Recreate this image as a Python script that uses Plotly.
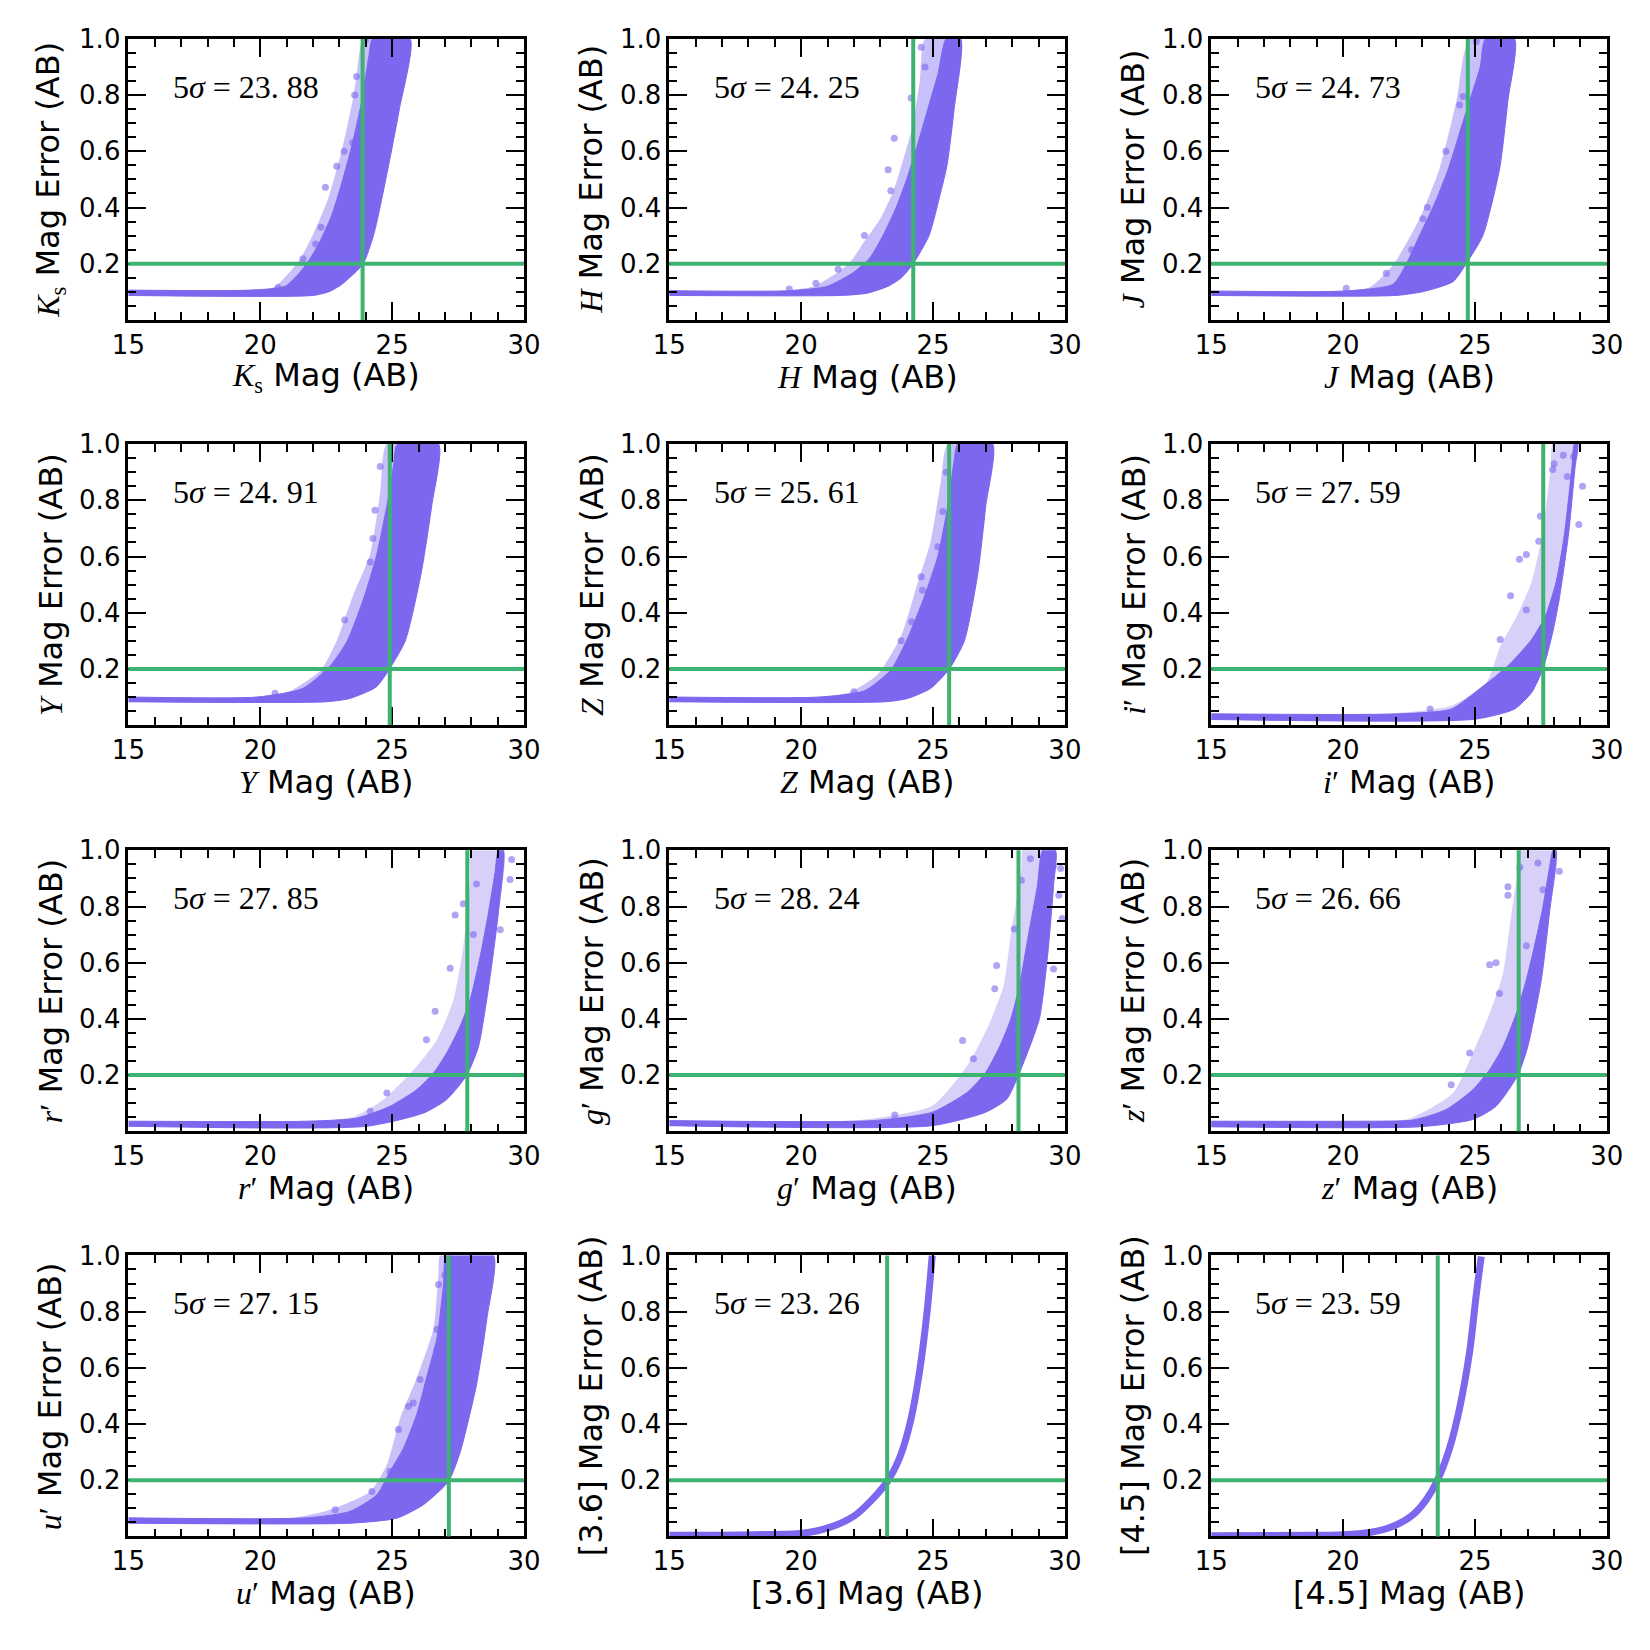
import plotly.graph_objects as go

# ---------------- data ----------------
PANEL_KEYS = ['Ks', 'H', 'J', 'Y', 'Z', 'i', 'r', 'g', 'z', 'u', 'I1', 'I2']
FIVE_SIGMA = [23.88, 24.25, 24.73, 24.91, 25.61, 27.59, 27.85, 28.24, 26.66, 27.15, 23.26, 23.59]
FIVE_SIGMA_TEXT = ['23. 88', '24. 25', '24. 73', '24. 91', '25. 61', '27. 59',
                   '27. 85', '28. 24', '26. 66', '27. 15', '23. 26', '23. 59']
ERR_LIMIT = 0.2

# error floor (lower, upper) of the flat part of each cloud
FLOOR = {
    'Ks': (0.087, 0.106), 'H': (0.087, 0.104), 'J': (0.087, 0.103), 'Y': (0.083, 0.100),
    'Z': (0.083, 0.100), 'i': (0.020, 0.040), 'r': (0.018, 0.036), 'g': (0.020, 0.038),
    'z': (0.016, 0.036), 'u': (0.047, 0.066),
}

# upper-left edge of the dense core (mag, err)
KS_CORE_LEFT = [(19.6, 0.106), (20.95, 0.12), (21.6, 0.18), (22.16, 0.26), (22.7, 0.37), (23.1, 0.49),
                (23.5, 0.63), (23.85, 0.78), (24.12, 0.94), (24.26, 1.0)]
H_CORE_LEFT = [(19.6, 0.104), (21.0, 0.12), (22.0, 0.17), (22.6, 0.22), (23.1, 0.30), (23.6, 0.40),
               (24.0, 0.50), (24.4, 0.62), (24.8, 0.75), (25.2, 0.88), (25.5, 1.0)]
J_CORE_LEFT = [(20.1, 0.103), (21.9, 0.127), (22.4, 0.2), (22.9, 0.30), (23.5, 0.42), (24.0, 0.54),
               (24.4, 0.66), (24.8, 0.78), (25.2, 0.9), (25.4, 1.0)]
Y_CORE_LEFT = [(19.9, 0.10), (21.6, 0.13), (22.65, 0.21), (23.3, 0.30), (23.9, 0.445), (24.4, 0.60),
               (24.8, 0.78), (25.05, 0.92), (25.2, 1.0)]
Z_CORE_LEFT = [(20.75, 0.10), (22.4, 0.122), (23.4, 0.196), (24.04, 0.31), (24.67, 0.457), (25.18, 0.60),
               (25.56, 0.78), (25.8, 0.94), (25.94, 1.0)]
IP_CORE_LEFT = [(22.1, 0.04), (24.1, 0.057), (25.16, 0.128), (25.8, 0.175), (26.35, 0.22), (27.15, 0.305),
                (27.68, 0.39), (28.08, 0.51), (28.4, 0.684), (28.68, 0.92), (28.77, 1.0)]
RP_CORE_LEFT = [(21.9, 0.036), (23.66, 0.047), (24.92, 0.089), (25.93, 0.148), (26.57, 0.208), (27.07, 0.279),
                (27.58, 0.374), (27.96, 0.469), (28.34, 0.623), (28.65, 0.777), (28.9, 0.92), (29.03, 1.0)]
GP_CORE_LEFT = [(22.7, 0.038), (24.97, 0.068), (26.3, 0.139), (27.0, 0.21), (27.54, 0.305), (27.95, 0.40),
                (28.28, 0.52), (28.62, 0.70), (28.96, 0.875), (29.16, 1.0)]
ZP_CORE_LEFT = [(20.75, 0.036), (22.65, 0.04), (23.9, 0.077), (24.92, 0.148), (25.56, 0.22), (26.06, 0.30),
                (26.57, 0.42), (26.95, 0.54), (27.26, 0.66), (27.58, 0.80), (27.83, 0.94), (27.96, 1.0)]
UP_CORE_LEFT = [(21.76, 0.066), (23.4, 0.089), (24.42, 0.148), (24.92, 0.231), (25.43, 0.314), (25.93, 0.433),
                (26.3, 0.563), (26.7, 0.706), (26.95, 0.896), (27.07, 1.0)]

# upper-left edge of the sparse outer cloud (mag, err)
KS_OUTER_LEFT = [(19.3, 0.106), (20.5, 0.115), (21.5, 0.215), (22.03, 0.31), (22.57, 0.43), (23.1, 0.606),
                 (23.5, 0.78), (23.65, 0.866), (23.92, 1.0)]
H_OUTER_LEFT = [(19.2, 0.104), (20.5, 0.12), (21.8, 0.2), (22.4, 0.28), (23.0, 0.36), (23.5, 0.46),
                (23.9, 0.58), (24.2, 0.68), (24.5, 0.85), (24.7, 1.0)]
J_OUTER_LEFT = [(19.8, 0.103), (21.0, 0.115), (21.9, 0.196), (22.9, 0.36), (23.66, 0.54), (24.3, 0.78),
                (24.8, 1.0)]
Y_OUTER_LEFT = [(19.6, 0.10), (21.0, 0.115), (22.3, 0.196), (22.9, 0.30), (23.5, 0.457), (24.17, 0.61),
                (24.55, 0.83), (24.8, 1.0)]
Z_OUTER_LEFT = [(20.4, 0.10), (21.8, 0.115), (22.9, 0.18), (23.8, 0.32), (24.4, 0.50), (24.9, 0.65),
                (25.3, 0.87), (25.56, 1.0)]
IP_OUTER_LEFT = [(21.5, 0.04), (24.1, 0.069), (25.43, 0.151), (25.96, 0.28), (26.6, 0.39), (27.15, 0.51),
                 (27.55, 0.68), (27.88, 0.92), (27.95, 1.0)]
RP_OUTER_LEFT = [(21.0, 0.036), (23.5, 0.05), (24.67, 0.113), (25.93, 0.231), (26.7, 0.326), (27.33, 0.469),
                 (27.7, 0.658), (27.96, 0.896), (28.0, 1.0)]
GP_OUTER_LEFT = [(22.0, 0.038), (24.97, 0.091), (26.3, 0.234), (27.1, 0.376), (27.68, 0.52), (27.95, 0.70),
                 (28.35, 0.935), (28.4, 1.0)]
ZP_OUTER_LEFT = [(20.3, 0.036), (22.5, 0.045), (24.17, 0.136), (24.92, 0.279), (25.56, 0.42), (26.06, 0.56),
                 (26.3, 0.717), (26.57, 0.896), (26.7, 1.0)]
UP_OUTER_LEFT = [(21.2, 0.066), (22.65, 0.095), (24.17, 0.16), (24.8, 0.255), (25.3, 0.42), (25.93, 0.563),
                 (26.57, 0.741), (26.76, 0.94), (26.82, 1.0)]

# lower-right edge of each cloud (mag, err)
KS_RIGHT = [(22.0, 0.087), (22.6, 0.10), (23.1, 0.127), (23.9, 0.2), (24.32, 0.31), (24.86, 0.547),
            (25.27, 0.748), (25.68, 1.0)]
H_RIGHT = [(21.5, 0.087), (22.5, 0.095), (23.3, 0.12), (23.8, 0.15), (24.25, 0.2), (24.85, 0.3),
           (25.2, 0.42), (25.53, 0.55), (25.8, 0.75), (26.05, 1.0)]
J_RIGHT = [(22.0, 0.087), (23.0, 0.10), (24.17, 0.136), (24.67, 0.2), (25.3, 0.30), (25.94, 0.54),
           (26.25, 0.78), (26.5, 1.0)]
Y_RIGHT = [(22.5, 0.083), (23.4, 0.095), (24.4, 0.136), (24.9, 0.2), (25.5, 0.30), (26.1, 0.54),
           (26.5, 0.78), (26.76, 1.0)]
Z_RIGHT = [(23.2, 0.083), (24.04, 0.095), (24.9, 0.13), (25.62, 0.2), (26.19, 0.30), (26.7, 0.54),
           (27.0, 0.78), (27.26, 1.0)]
IP_RIGHT = [(25.0, 0.021), (26.5, 0.057), (27.15, 0.116), (27.58, 0.2), (27.95, 0.33), (28.2, 0.45),
            (28.55, 0.68), (28.8, 0.92), (28.9, 1.0)]
RP_RIGHT = [(24.04, 0.018), (26.19, 0.065), (27.07, 0.113), (27.83, 0.2), (28.27, 0.30), (28.7, 0.54),
            (29.03, 0.78), (29.22, 1.0)]
GP_RIGHT = [(24.97, 0.02), (27.0, 0.068), (27.8, 0.115), (28.24, 0.2), (29.03, 0.40), (29.36, 0.64),
            (29.57, 0.875), (29.64, 1.0)]
ZP_RIGHT = [(22.9, 0.016), (24.92, 0.042), (25.8, 0.089), (26.63, 0.2), (27.0, 0.30), (27.52, 0.54),
            (27.83, 0.78), (28.08, 1.0)]
UP_RIGHT = [(23.4, 0.047), (25.18, 0.065), (26.19, 0.113), (27.14, 0.196), (27.58, 0.30), (28.2, 0.54),
            (28.6, 0.78), (28.84, 1.0)]

# isolated sources scattered outside the dense core (mag, err)
KS_OUT = [(22.47, 0.472), (23.58, 0.80), (23.65, 0.866), (23.18, 0.60), (22.9, 0.547), (21.62, 0.218),
          (20.68, 0.115), (23.5, 0.63), (23.99, 0.996), (22.3, 0.33), (22.1, 0.27)]
H_OUT = [(23.53, 0.646), (23.3, 0.534), (23.4, 0.46), (22.4, 0.30), (21.4, 0.18), (20.56, 0.13),
         (19.55, 0.11), (24.17, 0.79), (24.7, 0.90), (24.55, 0.97)]
J_OUT = [(21.64, 0.166), (20.12, 0.113), (23.03, 0.36), (23.2, 0.40), (24.42, 0.765), (24.55, 0.795),
         (25.05, 0.99), (22.6, 0.25), (23.9, 0.6)]
Y_OUT = [(23.2, 0.374), (24.17, 0.58), (24.27, 0.664), (24.55, 0.92), (24.35, 0.765), (22.46, 0.184),
         (20.56, 0.113)]
Z_OUT = [(23.79, 0.30), (24.19, 0.368), (24.55, 0.528), (24.6, 0.48), (25.18, 0.635), (25.37, 0.76),
         (25.5, 0.90), (22.0, 0.119)]
IP_OUT = [(26.69, 0.59), (26.95, 0.607), (27.42, 0.654), (27.48, 0.743), (28.0, 0.93), (28.35, 0.96),
          (27.95, 0.91), (28.5, 0.885), (26.35, 0.46), (25.96, 0.305), (26.95, 0.41), (29.08, 0.85),
          (28.94, 0.714), (28.74, 0.956), (23.3, 0.057)]
RP_OUT = [(24.8, 0.136), (24.17, 0.071), (26.63, 0.427), (27.2, 0.58), (27.39, 0.77), (27.7, 0.81),
          (28.2, 0.88), (29.53, 0.967), (29.47, 0.896), (29.1, 0.717), (28.08, 0.70), (26.3, 0.326)]
GP_OUT = [(26.12, 0.323), (27.34, 0.507), (27.41, 0.59), (28.08, 0.72), (28.35, 0.893), (28.69, 0.97),
          (29.57, 0.946), (29.84, 0.935), (29.77, 0.84), (29.9, 0.757), (29.57, 0.578), (23.55, 0.058),
          (26.53, 0.258)]
ZP_OUT = [(24.1, 0.166), (24.8, 0.279), (25.56, 0.593), (25.8, 0.60), (26.25, 0.84), (26.25, 0.87),
          (26.7, 0.94), (27.45, 0.66), (27.58, 0.86), (28.2, 0.925), (27.39, 0.955), (25.93, 0.49),
          (26.95, 0.66)]
UP_OUT = [(22.84, 0.095), (24.23, 0.16), (24.92, 0.231), (25.24, 0.38), (25.62, 0.463), (25.8, 0.475),
          (26.06, 0.558), (26.63, 0.593), (26.7, 0.736), (26.76, 0.896), (27.0, 0.93)]

# IRAC curves
I1_MAG = [15.0, 18.2, 20.04, 21.05, 22.0, 22.68, 23.28, 23.76, 24.16, 24.5, 24.77, 24.97]
I1_ERR = [0.004, 0.006, 0.011, 0.031, 0.072, 0.13, 0.197, 0.286, 0.416, 0.594, 0.796, 1.0]
I2_MAG = [15.0, 18.98, 19.99, 21.0, 21.9, 22.65, 23.15, 23.57, 24.04, 24.42, 24.8, 25.05, 25.24]
I2_ERR = [0.002, 0.004, 0.006, 0.014, 0.036, 0.077, 0.13, 0.198, 0.314, 0.457, 0.658, 0.86, 0.996]

X_TICKS = [15, 20, 25, 30]
Y_TICKS = [0.2, 0.4, 0.6, 0.8, 1.0]
Y_TICK_TEXT = ['0.2', '0.4', '0.6', '0.8', '1.0']

SER = '<span style="font-family:Liberation Serif, serif">'
BAND_HTML = [
    SER + '<i>K</i><sub>s</sub></span>', SER + '<i>H</i></span>', SER + '<i>J</i></span>',
    SER + '<i>Y</i></span>', SER + '<i>Z</i></span>', SER + '<i>i</i>′</span>',
    SER + '<i>r</i>′</span>', SER + '<i>g</i>′</span>', SER + '<i>z</i>′</span>',
    SER + '<i>u</i>′</span>', '[3.6]', '[4.5]',
]

CLOUDS = {
    'Ks': (KS_CORE_LEFT, KS_OUTER_LEFT, KS_RIGHT, KS_OUT),
    'H': (H_CORE_LEFT, H_OUTER_LEFT, H_RIGHT, H_OUT),
    'J': (J_CORE_LEFT, J_OUTER_LEFT, J_RIGHT, J_OUT),
    'Y': (Y_CORE_LEFT, Y_OUTER_LEFT, Y_RIGHT, Y_OUT),
    'Z': (Z_CORE_LEFT, Z_OUTER_LEFT, Z_RIGHT, Z_OUT),
    'i': (IP_CORE_LEFT, IP_OUTER_LEFT, IP_RIGHT, IP_OUT),
    'r': (RP_CORE_LEFT, RP_OUTER_LEFT, RP_RIGHT, RP_OUT),
    'g': (GP_CORE_LEFT, GP_OUTER_LEFT, GP_RIGHT, GP_OUT),
    'z': (ZP_CORE_LEFT, ZP_OUTER_LEFT, ZP_RIGHT, ZP_OUT),
    'u': (UP_CORE_LEFT, UP_OUTER_LEFT, UP_RIGHT, UP_OUT),
}
SPARSE_OUTER = {'i', 'r', 'g', 'z'}
CURVES = {'I1': (I1_MAG, I1_ERR), 'I2': (I2_MAG, I2_ERR)}

# ---------------- styling / layout ----------------
FIG_W = FIG_H = 1650
PURPLE = '#7B68EE'
PURPLE_LIGHT = 'rgba(123,104,238,0.42)'
PURPLE_SPARSE = 'rgba(123,104,238,0.30)'
PURPLE_DOT = 'rgba(123,104,238,0.6)'
GREEN = '#3CB371'
COL_LEFT = [128.4, 669.3, 1211.2]
ROW_TOP = [38.9, 444.1, 850.3, 1255.4]
PW, PH = 395.6, 281.0
TICK_FONT = dict(family='DejaVu Sans', size=26, color='black')
TITLE_FONT = dict(family='DejaVu Sans', size=32, color='black')

fig = go.Figure()
layout = dict(width=FIG_W, height=FIG_H,
              margin=dict(l=0, r=0, t=0, b=0, pad=0, autoexpand=False),
              paper_bgcolor='white', plot_bgcolor='white', showlegend=False)
annotations = []
shapes = []


def polygon(left, right, lo, hi):
    xs = [15.0] + [m for m, e in left] + [m for m, e in reversed(right)] + [15.0]
    ys = [hi] + [e for m, e in left] + [e for m, e in reversed(right)] + [lo]
    return xs, ys


for k, key in enumerate(PANEL_KEYS):
    n = k + 1
    r, c = divmod(k, 3)
    x0 = COL_LEFT[c] / FIG_W
    x1 = (COL_LEFT[c] + PW) / FIG_W
    y1 = 1 - ROW_TOP[r] / FIG_H
    y0 = 1 - (ROW_TOP[r] + PH) / FIG_H
    xa = 'x' if n == 1 else f'x{n}'
    ya = 'y' if n == 1 else f'y{n}'
    common = dict(showline=True, linewidth=2.5, linecolor='black', mirror='allticks',
                  ticks='inside', ticklen=18, tickwidth=2, tickcolor='black', automargin=False,
                  showgrid=False, zeroline=False, tickfont=TICK_FONT)
    layout['xaxis' if n == 1 else f'xaxis{n}'] = dict(
        common, domain=[x0, x1], anchor=ya, range=[15, 30], tickvals=X_TICKS,
        minor=dict(ticks='inside', tick0=15, dtick=1, ticklen=8, tickwidth=1.5, tickcolor='black'))
    layout['yaxis' if n == 1 else f'yaxis{n}'] = dict(
        common, domain=[y0, y1], anchor=xa, range=[0, 1], tickvals=Y_TICKS, ticktext=Y_TICK_TEXT,
        minor=dict(ticks='inside', tick0=0, dtick=0.05, ticklen=8, tickwidth=1.5, tickcolor='black'))

    if key in CLOUDS:
        core_left, outer_left, right, outl = CLOUDS[key]
        lo, hi = FLOOR[key]
        ox, oy = polygon(outer_left, right, lo, hi)
        fig.add_trace(go.Scatter(x=ox, y=oy, mode='lines', fill='toself',
                                 fillcolor=PURPLE_SPARSE if key in SPARSE_OUTER else PURPLE_LIGHT,
                                 line=dict(width=0, shape='spline', smoothing=0.6), hoverinfo='skip',
                                 xaxis=xa, yaxis=ya))
        cx, cy = polygon(core_left, right, lo, hi)
        fig.add_trace(go.Scatter(x=cx, y=cy, mode='lines', fill='toself', fillcolor=PURPLE,
                                 line=dict(width=1, color=PURPLE, shape='spline', smoothing=0.6),
                                 hoverinfo='skip', xaxis=xa, yaxis=ya))
        fig.add_trace(go.Scatter(x=[m for m, e in outl], y=[e for m, e in outl], mode='markers',
                                 marker=dict(size=7, color=PURPLE_DOT, line=dict(width=0)),
                                 xaxis=xa, yaxis=ya))
    else:
        mx, ey = CURVES[key]
        fig.add_trace(go.Scatter(x=mx, y=ey, mode='lines',
                                 line=dict(width=7, color=PURPLE, shape='spline', smoothing=0.8),
                                 xaxis=xa, yaxis=ya))

    # 5 sigma limit lines
    shapes.append(dict(type='line', xref=xa, yref=f'{ya} domain', x0=FIVE_SIGMA[k], x1=FIVE_SIGMA[k],
                       y0=0, y1=1, line=dict(color=GREEN, width=4)))
    shapes.append(dict(type='line', xref=f'{xa} domain', yref=ya, x0=0, x1=1, y0=ERR_LIMIT, y1=ERR_LIMIT,
                       line=dict(color=GREEN, width=4)))

    annotations.append(dict(xref=xa, yref=ya, x=16.6, y=0.83, xanchor='left', yanchor='middle',
                            text='5<i>σ</i> = ' + FIVE_SIGMA_TEXT[k], showarrow=False,
                            font=dict(family='Liberation Serif, serif', size=32, color='black')))
    # axis titles
    annotations.append(dict(xref='paper', yref='paper', x=(x0 + x1) / 2, y=y0 - 57 / FIG_H,
                            xanchor='center', yanchor='middle', showarrow=False,
                            text=BAND_HTML[k] + ' Mag (AB)', font=TITLE_FONT))
    annotations.append(dict(xref='paper', yref='paper', x=x0 - 78 / FIG_W, y=(y0 + y1) / 2,
                            xanchor='center', yanchor='middle', showarrow=False, textangle=-90,
                            text=BAND_HTML[k] + ' Mag Error (AB)', font=TITLE_FONT))

layout['annotations'] = annotations
layout['shapes'] = shapes
fig.update_layout(**layout)
fig.write_html('out.html')
